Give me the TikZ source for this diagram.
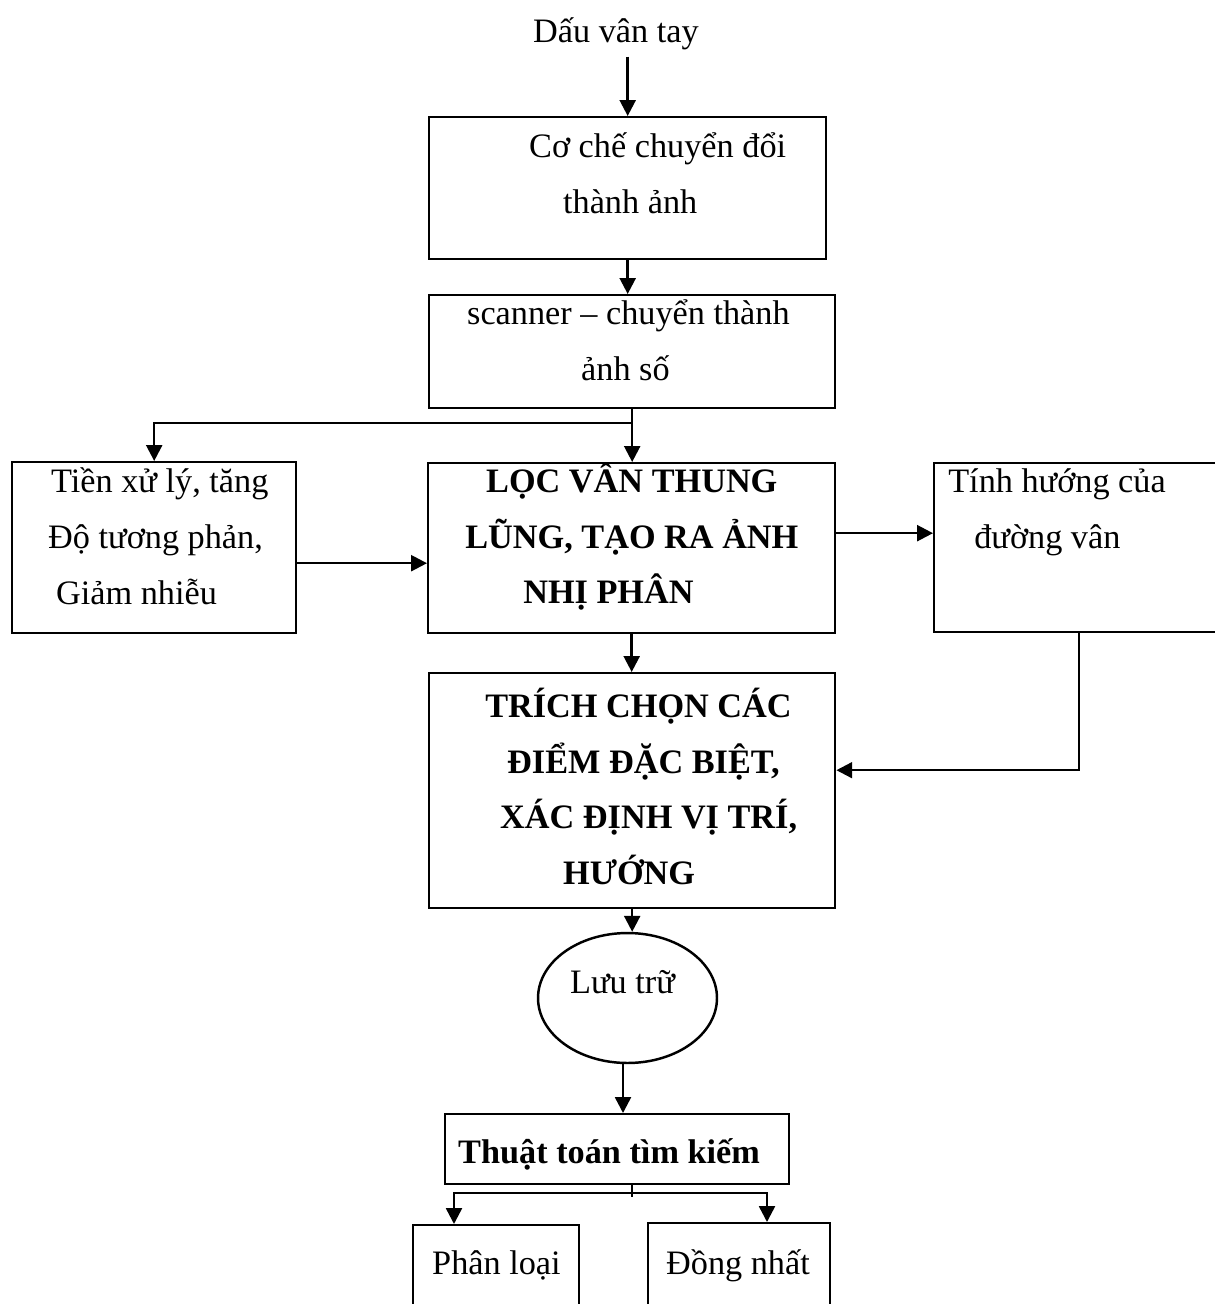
\documentclass[tikz,border=0pt]{standalone}
\usepackage{fontspec}
\setmainfont{Liberation Serif}
\usetikzlibrary{arrows.meta,shapes.geometric}

\begin{document}
\begin{tikzpicture}[x=0.02cm,y=-0.02cm,
  every node/.style={font=\fontsize{19.5pt}{31.8pt}\selectfont},
  box/.style={draw,line width=1.4pt,inner sep=0pt,align=flush left,anchor=north west},
  arr/.style={line width=1.4pt,-{Triangle[length=9pt,width=9pt]}},
  arrs/.style={line width=1.4pt,{Triangle[length=9pt,width=9pt]}-{Triangle[length=9pt,width=9pt]}}]

\useasboundingbox (0,0) rectangle (1214,1304);

\node[anchor=base west] (Src) at (527,43) {Dấu vân tay};

\node[box,text width=7.94cm,text height=22.8pt,text depth=58pt] (Conv) at (428,116)
  {\hspace*{56.9pt}Cơ chế chuyển đổi\\ \hspace*{76.2pt}thành ảnh};
\node[box,text width=8.12cm,text height=16.5pt,text depth=47.8pt] (Scan) at (428,294)
  {\hspace*{21.6pt}scanner – chuyển thành\\ \hspace*{86.5pt}ảnh số};
\node[box,text width=5.68cm,text height=17.1pt,text depth=80.2pt] (Pre) at (11,461)
  {\hspace*{22.2pt}Tiền xử lý, tăng\\ \hspace*{20.5pt}Độ tương phản,\\ \hspace*{25pt}Giảm nhiễu};
\node[box,text width=8.14cm,text height=16.5pt,text depth=80.2pt] (Loc) at (427,462)
  {\hspace*{33pt}\textbf{LỌC VÂN THUNG}\\ \hspace*{21.1pt}\textbf{LŨNG, TẠO RA ẢNH}\\ \hspace*{54.1pt}\textbf{NHỊ PHÂN}};
\node[box,text width=5.8cm,text height=16.5pt,text depth=79.7pt] (Dir) at (933,462)
  {\hspace*{8pt}Tính hướng của\\ \hspace*{22.8pt}đường vân};
\node[box,text width=8.12cm,text height=25pt,text depth=108.7pt] (Trich) at (428,672)
  {\hspace*{31.9pt}\textbf{TRÍCH CHỌN CÁC}\\ \hspace*{44.4pt}\textbf{ĐIỂM ĐẶC BIỆT,}\\
   \hspace*{40.4pt}\textbf{XÁC ĐỊNH VỊ TRÍ,}\\ \hspace*{76.2pt}\textbf{HƯỚNG}};
\node[draw,ellipse,line width=1.4pt,inner sep=0pt,minimum width=3.58cm,minimum height=2.6cm,
  text height=5.7pt,text depth=11.4pt] (Store) at (627.5,998) {Lưu trữ\hspace*{5.7pt}};
\node[box,text width=6.88cm,text height=27.9pt,text depth=11.9pt] (Search) at (444,1113)
  {\hspace*{7.4pt}\textbf{Thuật toán tìm kiếm}};
\node[box,text width=3.32cm,text height=27.9pt,text depth=23.9pt] (Cls) at (412,1224)
  {\hspace*{10.8pt}Phân loại};
\node[box,text width=3.64cm,text height=29pt,text depth=23.9pt] (Iden) at (647,1222)
  {\hspace*{10.2pt}Đồng nhất};

\coordinate (Split) at (632,423);
\coordinate (Tick) at (632,1183);
\coordinate (ForkL) at (454,1193);
\coordinate (ForkR) at (767,1193);

\draw[arr] (Src.south -| Conv.north) -- (Conv.north);
\draw[arr] (Conv.south) -- (Conv.south |- Scan.north);
\draw[arr] (Scan.south) -- (Scan.south |- Loc.north);
\draw[arr] (Split) -| (Pre.north);
\draw[arr] ([yshift=-0.31cm]Pre.east) -- ([yshift=-0.31cm]Pre.east -| Loc.west);
\draw[arr] ([yshift=0.3cm]Loc.east) -- ([yshift=0.3cm]Loc.east -| Dir.west);
\draw[arr] (Loc.south) -- (Loc.south |- Trich.north);
\draw[arr] (Dir.south) |- ([yshift=0.41cm]Trich.east);
\draw[arr] (Trich.south) -- (Trich.south |- Store.north);
\draw[arr] ([xshift=-0.09cm]Store.south) -- ([xshift=-0.09cm]Store.south |- Search.north);
\draw[line width=1.4pt] (Tick) -- ++(0,14);
\draw[arrs] (ForkL |- Cls.north) -- (ForkL) -- (ForkR) -- (ForkR |- Iden.north);
\end{tikzpicture}
\end{document}
